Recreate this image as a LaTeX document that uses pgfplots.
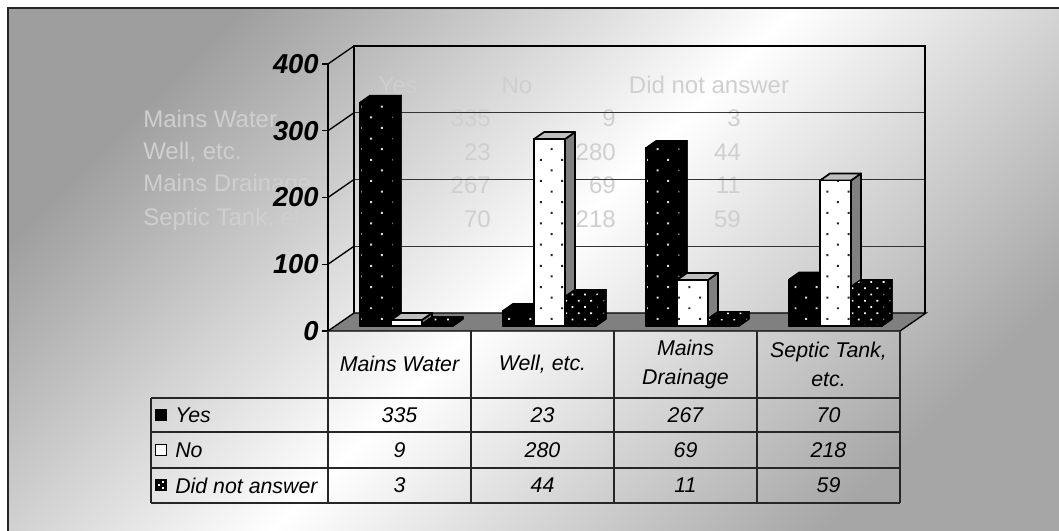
\documentclass[border=0pt]{standalone}
\usepackage{pgfplots}
\pgfplotsset{compat=1.18}
\usepackage{pgfplotstable}
\usetikzlibrary{patterns.meta}
\usepackage{fontspec}
\setmainfont{Liberation Sans}

\pgfplotstableread{
cat Yes No DNA
0 335 9 3
1 23 280 44
2 267 69 11
3 70 218 59
}\datatable

\tikzset{
 barline/.style={draw=black, line width=0.9pt, line join=round},
 yesfront/.style={barline, fill=black, postaction={pattern={Dots[distance=11.25pt, radius=1.05pt, angle=45]}, pattern color=white!85!black}},
 yesside/.style={barline, fill=black, postaction={pattern={Dots[distance=11.25pt, radius=0.8pt, angle=45]}, pattern color=black!55}},
 yestop/.style={barline, fill=black},
 nofront/.style={barline, line width=1.3pt, fill=white, postaction={pattern={Dots[distance=11.25pt, radius=1.05pt, angle=45]}, pattern color=black!85}},
 noside/.style={barline, line width=1.3pt, fill=black!50},
 notop/.style={barline, line width=1.3pt, fill=black!25},
 dnafront/.style={barline, fill=black, postaction={pattern={Dots[distance=6.6pt, radius=0.95pt, angle=45]}, pattern color=white}},
 dnaside/.style={barline, fill=black, postaction={pattern={Dots[distance=6.6pt, radius=0.75pt, angle=45]}, pattern color=black!55}},
 dnatop/.style={dnafront},
}

\def\bw{31}\def\ox{7}\def\oy{7.49}\def\ddx{10}\def\ddy{10.49}
\newcommand\drawbar[5]{%
  \pgfmathsetmacro\xa{#1+\ox}%
  \pgfmathsetmacro\xb{#1+\ox+\bw}%
  \pgfmathsetmacro\xc{#1+\ox+\ddx}%
  \pgfmathsetmacro\xd{#1+\ox+\bw+\ddx}%
  \pgfmathsetmacro\yb{#2+\oy}%
  \pgfmathsetmacro\yc{\oy+\ddy}%
  \pgfmathsetmacro\yd{#2+\oy+\ddy}%
  \edef\barcmd{%
    \noexpand\addplot[#4] coordinates {(\xb,\oy) (\xd,\yc) (\xd,\yd) (\xb,\yb)} -- cycle;%
    \noexpand\addplot[#5] coordinates {(\xa,\yb) (\xc,\yd) (\xd,\yd) (\xb,\yb)} -- cycle;%
    \noexpand\addplot[#3] coordinates {(\xa,\oy) (\xb,\oy) (\xb,\yb) (\xa,\yb)} -- cycle;%
  }\barcmd
}

\begin{document}
\begin{tikzpicture}[x=0.75pt,y=0.75pt]
\path[use as bounding box] (0,0) rectangle (1059,531);
\fill[white] (0,0) rectangle (1059,531);
\shade[shading=axis, top color=black!38, bottom color=black!35, middle color=white, shading angle=45] (8,0) rectangle (1059,523);
\draw[line width=1.3pt, black!85] (8,0) -- (8,523) -- (1059,523);

% faint ghost data sheet behind the chart
\begin{scope}[every node/.style={text=black!19, font=\fontsize{18}{18}\selectfont, inner sep=0pt}]
\node at (398,446) {Yes};
\node at (517,446) {No};
\node at (709,446) {Did not answer};
\node[anchor=west] at (143,412.5) {Mains Water};
\node[anchor=west] at (143,379) {Well, etc.};
\node[anchor=west] at (143,345.5) {Mains Drainage};
\node[anchor=west] at (143,312) {Septic Tank, etc.};
\node[anchor=east] at (491,412.5) {335};
\node[anchor=east] at (616,412.5) {9};
\node[anchor=east] at (741,412.5) {3};
\node[anchor=east] at (491,379) {23};
\node[anchor=east] at (616,379) {280};
\node[anchor=east] at (741,379) {44};
\node[anchor=east] at (491,345.5) {267};
\node[anchor=east] at (616,345.5) {69};
\node[anchor=east] at (741,345.5) {11};
\node[anchor=east] at (491,312) {70};
\node[anchor=east] at (616,312) {218};
\node[anchor=east] at (741,312) {59};
\end{scope}

\begin{axis}[
  at={(246pt,150pt)}, anchor=south west,
  x=0.75pt, y=0.500625pt,
  xmin=328, xmax=900, ymin=0, ymax=400,
  clip=false,
  axis x line=none,
  axis y line*=left,
  y axis line style={-, line width=1pt, black},
  ytick={0,100,200,300,400},
  tick align=outside,
  major tick length=4.5pt,
  ytick style={black, line width=1pt},
  yticklabel style={font=\fontsize{20.5}{20.5}\selectfont\bfseries\itshape, xshift=1pt},
  /pgf/number format/assume math mode=true,
  scaled y ticks=false,
]
% back wall and side wall
\addplot[black!80, line width=1pt] coordinates {(354,126.97) (925,126.97)};
\addplot[black!80, line width=1pt] coordinates {(354,226.97) (925,226.97)};
\addplot[black!80, line width=1pt] coordinates {(354,326.97) (925,326.97)};
\addplot[black, line width=1.1pt] coordinates {(354,26.97) (354,426.97) (925,426.97) (925,26.97)};
\addplot[black, line width=1pt] coordinates {(328,100) (354,126.97)};
\addplot[black, line width=1pt] coordinates {(328,200) (354,226.97)};
\addplot[black, line width=1pt] coordinates {(328,300) (354,326.97)};
\addplot[black, line width=1pt] coordinates {(328,400) (354,426.97)};
% floor
\addplot[fill=black!50, draw=black, line width=1pt] coordinates {(328,0) (900,0) (926,26.97) (354,26.97)} -- cycle;
% bars
\pgfplotsforeachungrouped \i in {0,1,2,3}{%
  \pgfmathsetmacro\gx{353+143*\i}%
  \pgfplotstablegetelem{\i}{Yes}\of\datatable\let\vv\pgfplotsretval
  \drawbar{\gx}{\vv}{yesfront}{yesside}{yestop}%
  \pgfmathsetmacro\gx{\gx+31}%
  \pgfplotstablegetelem{\i}{No}\of\datatable\let\vv\pgfplotsretval
  \drawbar{\gx}{\vv}{nofront}{noside}{notop}%
  \pgfmathsetmacro\gx{\gx+31}%
  \pgfplotstablegetelem{\i}{DNA}\of\datatable\let\vv\pgfplotsretval
  \drawbar{\gx}{\vv}{dnafront}{dnaside}{dnatop}%
}
\end{axis}

% data table
\begin{scope}[line width=1pt, black!85]
\foreach \yy in {133,99,63,28} \draw (151,\yy) -- (900,\yy);
\draw (151,133) -- (151,28);
\foreach \xx in {328,471,614,757,900} \draw (\xx,200) -- (\xx,28);
\end{scope}
\begin{scope}[every node/.style={font=\fontsize{16}{21.75}\selectfont\itshape, inner sep=0pt, align=center}]
\node at (399.5,167) {Mains Water};
\node at (542.5,167) {Well, etc.};
\node at (685.5,167) {Mains\\Drainage};
\node at (828.5,167) {Septic Tank,\\etc.};
\node[anchor=west] at (175,116) {Yes};
\node[anchor=west] at (175,81) {No};
\node[anchor=west] at (175,45.5) {Did not answer};
\node at (399.5,116) {335};
\node at (542.5,116) {23};
\node at (685.5,116) {267};
\node at (828.5,116) {70};
\node at (399.5,81) {9};
\node at (542.5,81) {280};
\node at (685.5,81) {69};
\node at (828.5,81) {218};
\node at (399.5,45.5) {3};
\node at (542.5,45.5) {44};
\node at (685.5,45.5) {11};
\node at (828.5,45.5) {59};
\end{scope}
% legend keys
\fill[black] (155,110) rectangle (167,122);
\draw[line width=1.3pt, fill=white] (155.5,75.5) rectangle (166.5,86.5);
\fill[black] (155,39.5) rectangle (167,51.5);
\fill[white] (158,45) rectangle (160,47);
\fill[white] (162,41.5) rectangle (164,43.5);
\fill[white] (162,48) rectangle (164,50);
\end{tikzpicture}
\end{document}
